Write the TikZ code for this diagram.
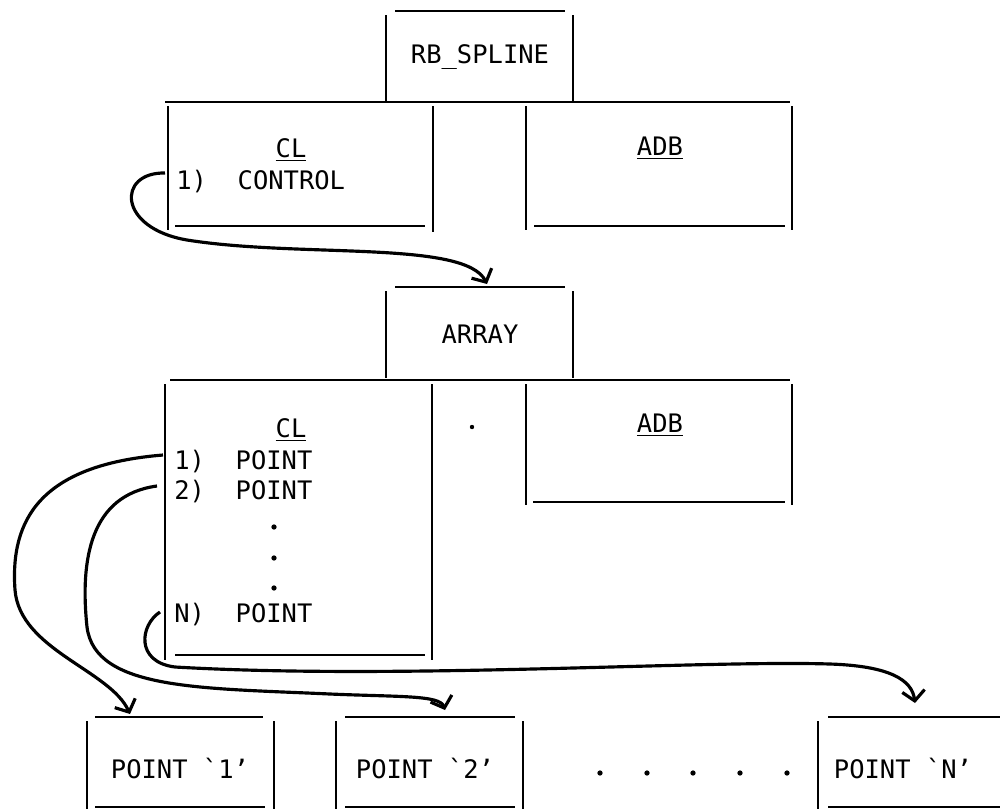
\documentclass[tikz,border=0pt]{standalone}
\usepackage{fontspec}
\setmainfont{DejaVu Sans Mono}
\usetikzlibrary{arrows.meta}

\begin{document}
\begin{tikzpicture}[x=0.02cm, y=-0.02cm,
    ruling/.style={line width=1.5pt},
    txt/.style={font=\fontsize{14.5}{16}\selectfont, inner sep=0pt},
    entry/.style={txt, anchor=west},
    link/.style={line width=1.8pt, -{Straight Barb[length=2mm, width=4.5mm]}},
    spot/.style={circle, fill, inner sep=0pt, minimum size=3pt}
]
\useasboundingbox (0,0) rectangle (1001,809);

% Header RB_SPLINE
\draw[ruling] (395,11) -- (565,11);
\draw[ruling] (386,15) -- (386,103) (573,15) -- (573,103);
\node[txt] (rbspline) at (480,57) {RB\_SPLINE};
\draw[ruling] (165,102) -- (790,102);

% CL / ADB cells (row 1)
\draw[ruling] (168,106) -- (168,230) (433,106) -- (433,232);
\draw[ruling] (175,226) -- (425,226);
\draw[ruling] (526,106) -- (526,230) (792,106) -- (792,230);
\draw[ruling] (534,226) -- (785,226);
\node[txt] (clA) at (291,150) {\underline{CL}};
\node[entry] (control) at (176,182) {1)~~CONTROL};
\node[txt] (adbA) at (660,148) {\underline{ADB}};

% Header ARRAY
\draw[ruling] (395,287) -- (565,287);
\draw[ruling] (386,291) -- (386,378) (573,291) -- (573,378);
\node[txt] (array) at (480,334) {ARRAY};
\draw[ruling] (170,380) -- (790,380);

% CL / ADB cells (row 2)
\draw[ruling] (165,384) -- (165,660) (432,384) -- (432,660);
\draw[ruling] (175,655) -- (425,655);
\draw[ruling] (526,384) -- (526,505) (792,384) -- (792,505);
\draw[ruling] (533,502) -- (785,502);
\node[txt] (clB) at (291,430) {\underline{CL}};
\node[entry] (pt1) at (174,462) {1)~~POINT};
\node[entry] (pt2) at (174,492) {2)~~POINT};
\node[entry] (ptN) at (174,615) {N)~~POINT};
\node[txt] (adbB) at (660,425) {\underline{ADB}};
\foreach \y in {527,558,588}
  \node[spot] at (274,\y) {};
\node[spot, minimum size=2.5pt] (stray) at (472,427) {};

% POINT boxes
\draw[ruling] (95,717) -- (263,717) (87,721) -- (87,809) (274,721) -- (274,809);
\draw[ruling] (95,807) -- (265,807);
\node[txt] (boxP1) at (180,768) {POINT \textasciigrave1'};
\draw[ruling] (345,717) -- (515,717) (336,721) -- (336,809) (523,721) -- (523,809);
\draw[ruling] (345,807) -- (515,807);
\node[txt] (boxP2) at (425,768) {POINT \textasciigrave2'};
\draw[ruling] (828,717) -- (1000,717) (818,721) -- (818,809);
\draw[ruling] (828,807) -- (1000,807);
\node[txt] (boxPN) at (903,768) {POINT \textasciigrave N'};
\foreach \x in {600,647,693,740,787}
  \node[spot] at (\x,773) {};

% Links
\coordinate (c1) at (165,173);
\coordinate (c2) at (163,455);
\coordinate (c3) at (157,486);
\coordinate (c4) at (160,612);
\coordinate (inArray) at (487,284);
\coordinate (inP1) at (130,714);
\coordinate (inP2) at (445,710);
\coordinate (inPN) at (915,703);

\draw[link] (c1) .. controls (117,172) and (117,228) .. (187,240)
                 .. controls (300,258) and (465,240) .. (inArray);
\draw[link] (c2) .. controls (40,465) and (10,520) .. (15,590)
                 .. controls (20,650) and (110,670) .. (inP1);
\draw[link] (c3) .. controls (90,495) and (80,560) .. (87,627)
                 .. controls (95,690) and (200,688) .. (330,694)
                 .. controls (400,697) and (440,695) .. (inP2);
\draw[link] (c4) .. controls (140,625) and (135,662) .. (175,667)
                 .. controls (400,680) and (700,660) .. (830,664)
                 .. controls (890,666) and (912,680) .. (inPN);

\end{tikzpicture}
\end{document}
